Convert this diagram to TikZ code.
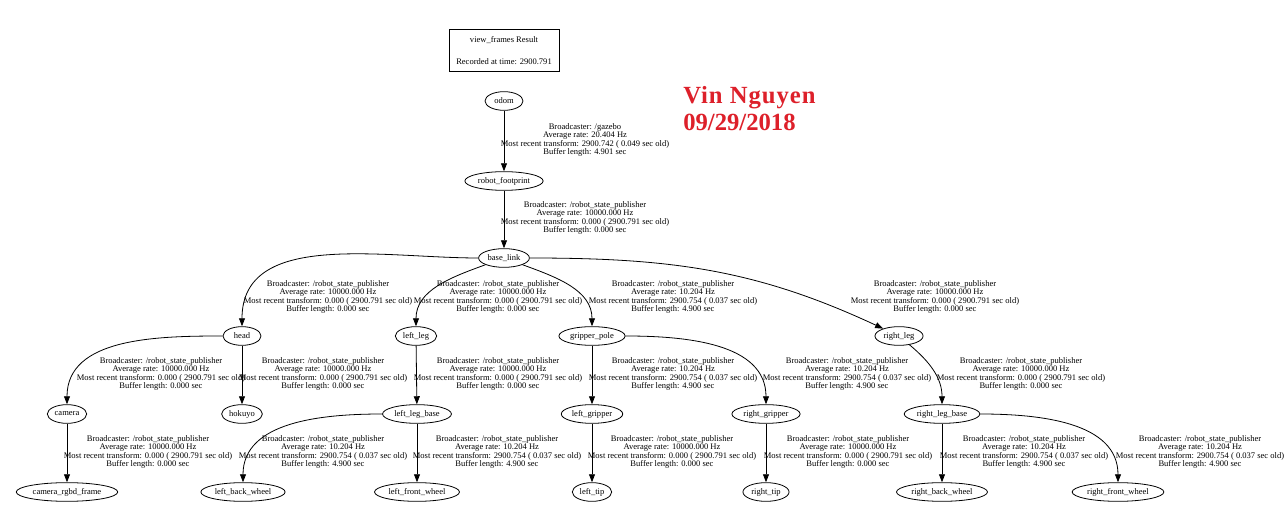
\documentclass[tikz,border=0pt]{standalone}
\usepackage{fontspec}
\setmainfont{Liberation Serif}
\usepackage{tikz}
\usepackage{xcolor}
\usetikzlibrary{arrows.meta,shapes.geometric}
\definecolor{signred}{RGB}{221,32,42}

\newcommand{\tfinfo}[4]{Broadcaster: #1\\Average rate: #2 Hz\\Most recent transform: #3 sec old)\\Buffer length: #4 sec}
\newcommand{\fixedtf}{\tfinfo{/robot\_state\_publisher}{10000.000}{0.000 ( 2900.791}{0.000}}
\newcommand{\movingtf}{\tfinfo{/robot\_state\_publisher}{10.204}{2900.754 ( 0.037}{4.900}}

\begin{document}
\begin{tikzpicture}[
  x=0.75pt, y=-0.75pt,
  font=\fontsize{6.4}{6.4}\selectfont,
  frame/.style={draw, ellipse, line width=0.6pt, minimum width=28.5pt, minimum height=14pt, inner xsep=1.2pt, inner ysep=0pt},
  info/.style={align=center, inner sep=0pt},
  arrow/.style={-{Triangle[length=6pt,width=4.5pt]}, line width=0.6pt}
]
\useasboundingbox (0,0) rectangle (1285,523);

\node[draw, line width=0.6pt, minimum width=82.5pt, minimum height=32pt, align=center] (result) at (504,50.5) {view\_frames Result\\[10pt]Recorded at time: 2900.791};
\node[anchor=north west, inner sep=0pt, align=left, text=signred, font=\fontsize{18.5}{20.5}\selectfont\bfseries] (author) at (683,86) {{\addfontfeature{LetterSpace=4}Vin Nguyen}\\09/29/2018};

% frames
\node[frame] (odom) at (504,101) {odom};
\node[frame] (robot_footprint) at (504,181) {robot\_footprint};
\node[frame] (base_link) at (504,258) {base\_link};
\node[frame] (head) at (242,336) {head};
\node[frame] (left_leg) at (416,336) {left\_leg};
\node[frame] (gripper_pole) at (592,336) {gripper\_pole};
\node[frame] (right_leg) at (899,336) {right\_leg};
\node[frame] (camera) at (67,414) {camera};
\node[frame] (hokuyo) at (242,414) {hokuyo};
\node[frame] (left_leg_base) at (417,414) {left\_leg\_base};
\node[frame] (left_gripper) at (592,414) {left\_gripper};
\node[frame] (right_gripper) at (766,414) {right\_gripper};
\node[frame] (right_leg_base) at (942,414) {right\_leg\_base};
\node[frame] (camera_rgbd_frame) at (67,492) {camera\_rgbd\_frame};
\node[frame] (left_back_wheel) at (243,492) {left\_back\_wheel};
\node[frame] (left_front_wheel) at (417,492) {left\_front\_wheel};
\node[frame] (left_tip) at (592,492) {left\_tip};
\node[frame] (right_tip) at (766,492) {right\_tip};
\node[frame] (right_back_wheel) at (942,492) {right\_back\_wheel};
\node[frame] (right_front_wheel) at (1118,492) {right\_front\_wheel};

% transforms
\draw[arrow] (odom) -- (robot_footprint);
\draw[arrow] (robot_footprint) -- (base_link);
\draw[arrow] (base_link) to[out=180,in=90] (head);
\draw[arrow] (base_link) to[out=200,in=90] (left_leg);
\draw[arrow] (base_link) to[out=-20,in=90] (gripper_pole);
\draw[arrow] (base_link) to[out=0,in=155] (right_leg);
\draw[arrow] (head) to[out=180,in=90] (camera);
\draw[arrow] (head) -- (hokuyo);
\draw[arrow] (left_leg) -- (left_leg_base);
\draw[arrow] (gripper_pole) -- (left_gripper);
\draw[arrow] (gripper_pole) to[out=0,in=90] (right_gripper);
\draw[arrow] (right_leg) to[out=-40,in=90] (right_leg_base);
\draw[arrow] (camera) -- (camera_rgbd_frame);
\draw[arrow] (left_leg_base) to[out=180,in=90] (left_back_wheel);
\draw[arrow] (left_leg_base) -- (left_front_wheel);
\draw[arrow] (left_gripper) -- (left_tip);
\draw[arrow] (right_gripper) -- (right_tip);
\draw[arrow] (right_leg_base) -- (right_back_wheel);
\draw[arrow] (right_leg_base) to[out=0,in=90] (right_front_wheel);

% broadcaster info
\node[info] (i_odom) at (585,140) {\tfinfo{/gazebo}{20.404}{2900.742 ( 0.049}{4.901}};
\node[info] (i_footprint) at (585,218) {\fixedtf};
\node[info] (i_head) at (328,297) {\fixedtf};
\node[info] (i_left_leg) at (498,297) {\fixedtf};
\node[info] (i_gripper_pole) at (673,297) {\movingtf};
\node[info] (i_right_leg) at (935,297) {\fixedtf};
\node[info] (i_camera) at (161,374) {\fixedtf};
\node[info] (i_hokuyo) at (323,374) {\fixedtf};
\node[info] (i_left_leg_base) at (498,374) {\fixedtf};
\node[info] (i_left_gripper) at (673,374) {\movingtf};
\node[info] (i_right_gripper) at (847,374) {\movingtf};
\node[info] (i_right_leg_base) at (1021,374) {\fixedtf};
\node[info] (i_rgbd) at (148,452) {\fixedtf};
\node[info] (i_back_wheel) at (323,452) {\movingtf};
\node[info] (i_front_wheel) at (497,452) {\movingtf};
\node[info] (i_left_tip) at (672,452) {\fixedtf};
\node[info] (i_right_tip) at (848,452) {\fixedtf};
\node[info] (i_right_back) at (1024,452) {\movingtf};
\node[info] (i_right_front) at (1200,452) {\movingtf};

\end{tikzpicture}
\end{document}
